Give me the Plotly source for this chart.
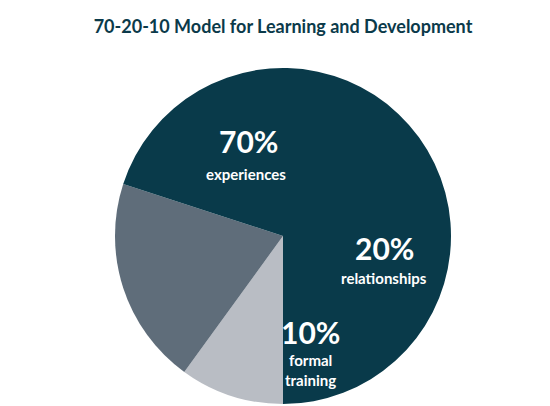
import plotly.graph_objects as go

labels = ["formal training", "relationships", "experiences"]
values = [10, 20, 70]
colors = ["#b9bdc4", "#5f6d7a", "#093a4a"]
W, H = 550, 406

fig = go.Figure(go.Pie(
    labels=labels, values=values, sort=False, direction="clockwise",
    rotation=180, marker=dict(colors=colors, line=dict(width=0)),
    textinfo="none", hoverinfo="label+percent", showlegend=False,
    domain=dict(x=[107/W, 443/W], y=[10/H, 346/H]),
))

def ann(x, y, text, size):
    fig.add_annotation(x=x/W, y=1-y/H, xref="paper", yref="paper", text=text,
                       xanchor="center", yanchor="middle",
                       showarrow=False, font=dict(family="Lato", size=size, color="white", weight="bold"))

ann(240, 133, "70%", 30)
ann(238, 166, "experiences", 15)
ann(376, 240, "20%", 30)
ann(376, 270, "relationships", 15)
ann(302, 324, "10%", 30)
ann(302, 352, "formal", 15)
ann(302, 372, "training", 15)

fig.update_layout(
    width=W, height=H, margin=dict(l=0, r=0, t=0, b=0),
    paper_bgcolor="white", plot_bgcolor="white",
    title=dict(text="<b>70-20-10 Model for Learning and Development</b>", x=0.5, y=1-19/H,
               xanchor="center", yanchor="middle",
               font=dict(family="Lato", size=18, color="#0b3a4a")),
)
fig.write_html("out.html")
